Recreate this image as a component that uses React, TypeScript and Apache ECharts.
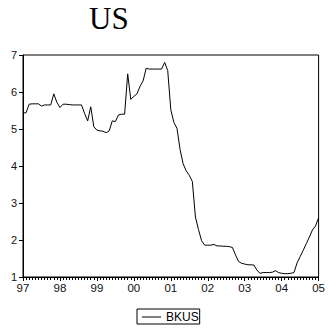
import React, { useEffect, useRef } from "react";
import * as echarts from "echarts";

// Monthly BKUS rate, Jan 1997 .. Jan 2005
const bkus: number[] = [
  5.43, 5.44, 5.67, 5.68, 5.68, 5.68, 5.62, 5.65, 5.65, 5.65, 5.95, 5.72,
  5.58, 5.67, 5.67, 5.66, 5.65, 5.65, 5.65, 5.65, 5.42, 5.22, 5.6, 5.06,
  4.97, 4.95, 4.94, 4.9, 4.95, 5.22, 5.2, 5.38, 5.4, 5.4, 6.49, 5.8,
  5.88, 5.95, 6.15, 6.3, 6.64, 6.62, 6.62, 6.62, 6.62, 6.62, 6.8, 6.58,
  5.52, 5.18, 5.02, 4.45, 4.06, 3.87, 3.75, 3.58, 2.62, 2.28, 1.98, 1.86,
  1.86, 1.86, 1.88, 1.84, 1.84, 1.83, 1.83, 1.82, 1.8, 1.6, 1.42, 1.37,
  1.35, 1.33, 1.33, 1.32, 1.18, 1.1, 1.12, 1.12, 1.12, 1.13, 1.17, 1.12,
  1.1, 1.09, 1.09, 1.1, 1.12, 1.38, 1.55, 1.72, 1.9, 2.08, 2.27, 2.38,
  2.6,
];

// One label per January
const yearLabels: string[] = ["97", "98", "99", "00", "01", "02", "03", "04", "05"];
const seriesName = "BKUS";
const chartTitle = "US";

const SANS = "'Liberation Sans', Arial, sans-serif";
const SERIF = "'Liberation Serif', 'Times New Roman', serif";

export default function App() {
  const ref = useRef<HTMLDivElement>(null);

  useEffect(() => {
    if (!ref.current) return;
    const chart = echarts.init(ref.current, null, { renderer: "svg" });
    const points = bkus.map((v, i) => [i, v]);

    chart.setOption({
      animation: false,
      backgroundColor: "#fff",
      title: {
        text: chartTitle,
        left: 89,
        top: 3,
        padding: 0,
        textStyle: {
          fontFamily: SERIF,
          fontSize: 31,
          fontWeight: "normal",
          color: "#000",
        },
      },
      grid: {
        left: 23,
        right: 8,
        top: 55,
        bottom: 55,
        show: true,
        borderColor: "#000",
        borderWidth: 1,
        backgroundColor: "transparent",
      },
      legend: {
        left: 137,
        top: 309,
        padding: [2, 1, 1, 5],
        borderColor: "#000",
        borderWidth: 1,
        borderRadius: 0,
        itemWidth: 19,
        itemHeight: 1,
        itemGap: 0,
        // plain short rule as the key, no marker
        data: [{ name: seriesName, icon: "rect" }],
        textStyle: {
          fontFamily: SANS,
          fontSize: 12,
          color: "#000",
        },
      },
      xAxis: {
        type: "value",
        min: 0,
        max: 96,
        interval: 12,
        axisLine: { show: true, lineStyle: { color: "#000", width: 1 } },
        axisTick: { show: true, length: 4, lineStyle: { color: "#000" } },
        minorTick: { show: true, splitNumber: 12, length: 3, lineStyle: { color: "#000" } },
        splitLine: { show: false },
        minorSplitLine: { show: false },
        axisLabel: {
          margin: 5,
          fontFamily: SANS,
          fontSize: 11.5,
          color: "#111",
          formatter: (v: number) => yearLabels[Math.round(v / 12)] ?? "",
        },
      },
      yAxis: {
        type: "value",
        min: 1,
        max: 7,
        interval: 1,
        axisLine: { show: true, lineStyle: { color: "#000", width: 1 } },
        axisTick: { show: true, length: 4, lineStyle: { color: "#000" } },
        splitLine: { show: false },
        axisLabel: {
          margin: 6,
          fontFamily: SANS,
          fontSize: 11,
          color: "#111",
        },
      },
      series: [
        {
          name: seriesName,
          type: "line",
          data: points,
          symbol: "none",
          showSymbol: false,
          lineStyle: { color: "#000", width: 1 },
          itemStyle: { color: "#000" },
        },
      ],
    });

    return () => chart.dispose();
  }, []);

  return (
    <div
      ref={ref}
      style={{ position: "fixed", left: 0, top: 0, width: 328, height: 332 }}
    />
  );
}
